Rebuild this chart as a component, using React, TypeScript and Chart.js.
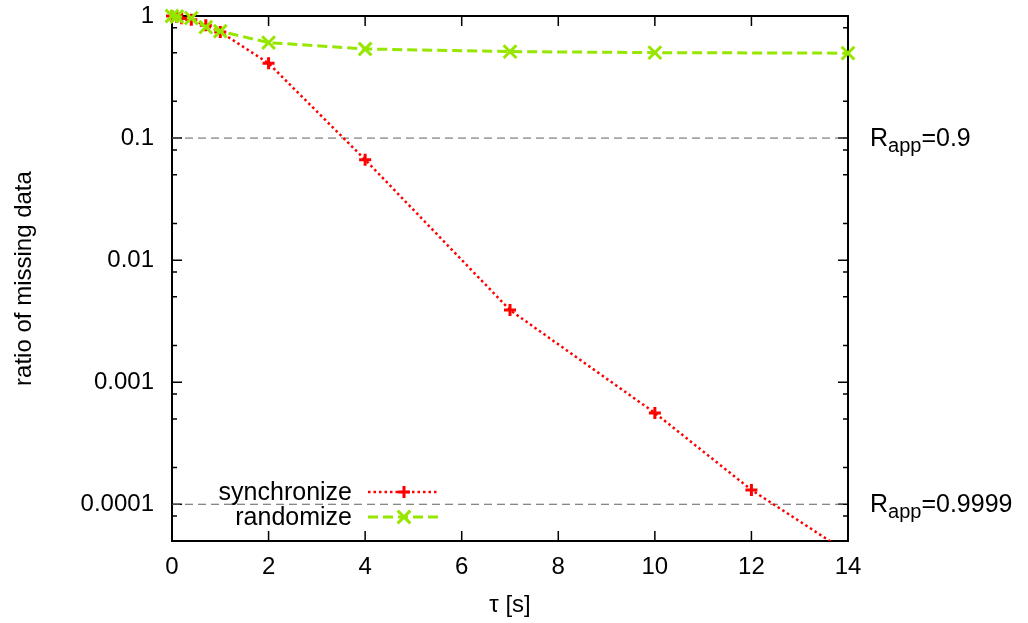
import { useEffect, useRef } from "react";
import { Chart, registerables } from "chart.js";

Chart.register(...registerables);

// τ [s] and ratio of missing data for each strategy
const syncTau = [0, 0.1, 0.2, 0.4, 0.7, 1, 2, 4, 7, 10, 12, 14];
const syncRatio = [1.0, 0.98, 0.96, 0.93, 0.84, 0.74, 0.41, 0.0665, 0.0039, 0.00056, 0.000131, 0.00004];
const randTau = [0, 0.1, 0.4, 0.7, 1, 2, 4, 7, 10, 14];
const randRatio = [1.0, 0.99, 0.96, 0.81, 0.75, 0.605, 0.537, 0.511, 0.501, 0.496];
const seriesNames = ["synchronize", "randomize"];

// reference levels with the matching R_app values
const refLevels = [0.1, 0.0001];
const refValues = ["0.9", "0.9999"];

// axes
const xTicks = [0, 2, 4, 6, 8, 10, 12, 14];
const yTicks = [1, 0.1, 0.01, 0.001, 0.0001];
const yTickLabels = ["1", "0.1", "0.01", "0.001", "0.0001"];
const yMinorFactors = [2, 5, 8];
const xTitle = "τ [s]";
const yTitle = "ratio of missing data";

const FONT = '"Liberation Sans", Arial, Helvetica, sans-serif';
const RED = "#ff0000";
const GREEN = "#96e600";
const GREY = "#606060";

const toPoints = (xs: number[], ys: number[]) => xs.map((x, i) => ({ x, y: ys[i] }));

function drawCross(ctx: CanvasRenderingContext2D, x: number, y: number, r: number) {
  ctx.beginPath();
  ctx.moveTo(x - r, y);
  ctx.lineTo(x + r, y);
  ctx.moveTo(x, y - r);
  ctx.lineTo(x, y + r);
  ctx.stroke();
}

function drawCrossRot(ctx: CanvasRenderingContext2D, x: number, y: number, r: number) {
  const d = r * Math.SQRT1_2;
  ctx.beginPath();
  ctx.moveTo(x - d, y - d);
  ctx.lineTo(x + d, y + d);
  ctx.moveTo(x - d, y + d);
  ctx.lineTo(x + d, y - d);
  ctx.stroke();
}

const framePlugin = {
  id: "frame",
  beforeDatasetsDraw(chart: any) {
    const { ctx, chartArea: a, scales } = chart;
    const xs = scales.x;
    const ys = scales.y;
    ctx.save();
    ctx.strokeStyle = "#000";
    ctx.lineWidth = 1.5;
    ctx.beginPath();
    for (const t of xTicks) {
      const px = xs.getPixelForValue(t);
      ctx.moveTo(px, a.bottom);
      ctx.lineTo(px, a.bottom - 10);
      ctx.moveTo(px, a.top);
      ctx.lineTo(px, a.top + 10);
    }
    for (const v of yTicks) {
      const py = ys.getPixelForValue(v);
      ctx.moveTo(a.left, py);
      ctx.lineTo(a.left + 10, py);
      ctx.moveTo(a.right, py);
      ctx.lineTo(a.right - 10, py);
      for (const f of yMinorFactors) {
        const mv = (v / 10) * f;
        if (mv <= ys.min || mv >= ys.max) continue;
        const mp = ys.getPixelForValue(mv);
        ctx.moveTo(a.left, mp);
        ctx.lineTo(a.left + 5, mp);
        ctx.moveTo(a.right, mp);
        ctx.lineTo(a.right - 5, mp);
      }
    }
    ctx.stroke();
    ctx.lineWidth = 2;
    ctx.strokeRect(a.left, a.top, a.right - a.left, a.bottom - a.top);
    ctx.restore();
  },
  afterDraw(chart: any) {
    const { ctx, chartArea: a, scales } = chart;
    const ys = scales.y;
    ctx.save();
    ctx.fillStyle = "#000";

    // axis titles
    ctx.font = `24px ${FONT}`;
    ctx.textAlign = "center";
    ctx.textBaseline = "alphabetic";
    ctx.fillText(xTitle, (a.left + a.right) / 2, 612);
    ctx.save();
    ctx.translate(31, (a.top + a.bottom) / 2);
    ctx.rotate(-Math.PI / 2);
    ctx.fillText(yTitle, 0, 0);
    ctx.restore();

    // R_app labels beside the reference levels
    ctx.textAlign = "left";
    refLevels.forEach((lv, i) => {
      const py = ys.getPixelForValue(lv);
      let x = a.right + 22;
      ctx.font = `25px ${FONT}`;
      ctx.fillText("R", x, py + 8);
      x += ctx.measureText("R").width;
      ctx.font = `20px ${FONT}`;
      ctx.fillText("app", x, py + 13.5);
      x += ctx.measureText("app").width;
      ctx.font = `25px ${FONT}`;
      ctx.fillText("=" + refValues[i], x, py + 8);
    });

    // key
    const keyRows = [
      { y: 492, color: RED, dash: [2.5, 3], width: 2.5, marker: "cross" },
      { y: 517, color: GREEN, dash: [10, 5], width: 3, marker: "crossRot" },
    ];
    keyRows.forEach((row, i) => {
      ctx.font = `25px ${FONT}`;
      ctx.textAlign = "right";
      ctx.fillStyle = "#000";
      ctx.fillText(seriesNames[i], 352, row.y + 8);
      ctx.strokeStyle = row.color;
      ctx.lineWidth = row.width;
      ctx.setLineDash(row.dash);
      ctx.beginPath();
      ctx.moveTo(368, row.y);
      ctx.lineTo(439, row.y);
      ctx.stroke();
      ctx.setLineDash([]);
      if (row.marker === "cross") {
        ctx.lineWidth = 3;
        drawCross(ctx, 404, row.y, 6);
      } else {
        ctx.lineWidth = 3;
        drawCrossRot(ctx, 404, row.y, 9);
      }
    });
    ctx.restore();
  },
};

export default function App() {
  const canvasRef = useRef<HTMLCanvasElement | null>(null);

  useEffect(() => {
    document.body.style.margin = "0";
    const canvas = canvasRef.current;
    if (!canvas) return;

    const refSets = refLevels.map((lv) => ({
      label: "ref " + lv,
      data: [
        { x: xTicks[0], y: lv },
        { x: xTicks[xTicks.length - 1], y: lv },
      ],
      borderColor: GREY,
      borderWidth: 1,
      borderDash: [8, 5],
      pointRadius: 0,
      order: 3,
    }));

    const chart = new Chart(canvas, {
      type: "line",
      data: {
        datasets: [
          ...refSets,
          {
            label: seriesNames[0],
            data: toPoints(syncTau, syncRatio),
            borderColor: RED,
            borderWidth: 2.5,
            borderDash: [2.5, 3],
            pointStyle: "cross",
            pointRadius: 6,
            pointBorderWidth: 3,
            pointBorderColor: RED,
            pointBackgroundColor: RED,
            clip: { left: 12, top: 12, right: 12, bottom: 0 },
            order: 2,
          },
          {
            label: seriesNames[1],
            data: toPoints(randTau, randRatio),
            borderColor: GREEN,
            borderWidth: 3,
            borderDash: [10, 5],
            pointStyle: "crossRot",
            pointRadius: 9,
            pointBorderWidth: 3,
            pointBorderColor: GREEN,
            pointBackgroundColor: GREEN,
            clip: { left: 12, top: 12, right: 12, bottom: 0 },
            order: 1,
          },
        ],
      } as any,
      options: {
        animation: false,
        responsive: false,
        devicePixelRatio: 1,
        events: [],
        layout: { padding: { left: 0, top: 16, right: 180, bottom: 0 } },
        plugins: {
          legend: { display: false },
          tooltip: { enabled: false },
        },
        scales: {
          x: {
            type: "linear",
            min: 0,
            max: 14,
            border: { display: false },
            grid: { display: false, drawTicks: false },
            afterBuildTicks: (axis: any) => {
              axis.ticks = xTicks.map((v) => ({ value: v }));
            },
            afterFit: (axis: any) => {
              axis.height = 82;
              axis.paddingLeft = 0;
              axis.paddingRight = 0;
            },
            ticks: {
              autoSkip: false,
              maxRotation: 0,
              padding: 12,
              color: "#000",
              font: { family: FONT, size: 24 },
              callback: (v: any) => String(v),
            },
          },
          y: {
            type: "logarithmic",
            min: 0.00005,
            max: 1,
            border: { display: false },
            grid: { display: false, drawTicks: false },
            afterBuildTicks: (axis: any) => {
              axis.ticks = yTicks.map((v) => ({ value: v }));
            },
            afterFit: (axis: any) => {
              axis.width = 172;
              axis.paddingTop = 0;
              axis.paddingBottom = 0;
            },
            ticks: {
              autoSkip: false,
              padding: 18,
              color: "#000",
              font: { family: FONT, size: 24 },
              callback: (v: any) => {
                const i = yTicks.findIndex((t) => Math.abs(t - v) / t < 1e-6);
                return i >= 0 ? yTickLabels[i] : "";
              },
            },
          },
        },
      } as any,
      plugins: [framePlugin],
    });

    return () => chart.destroy();
  }, []);

  return (
    <div style={{ width: 1028, height: 623, background: "#fff" }}>
      <canvas ref={canvasRef} width={1028} height={623} style={{ display: "block" }} />
    </div>
  );
}
